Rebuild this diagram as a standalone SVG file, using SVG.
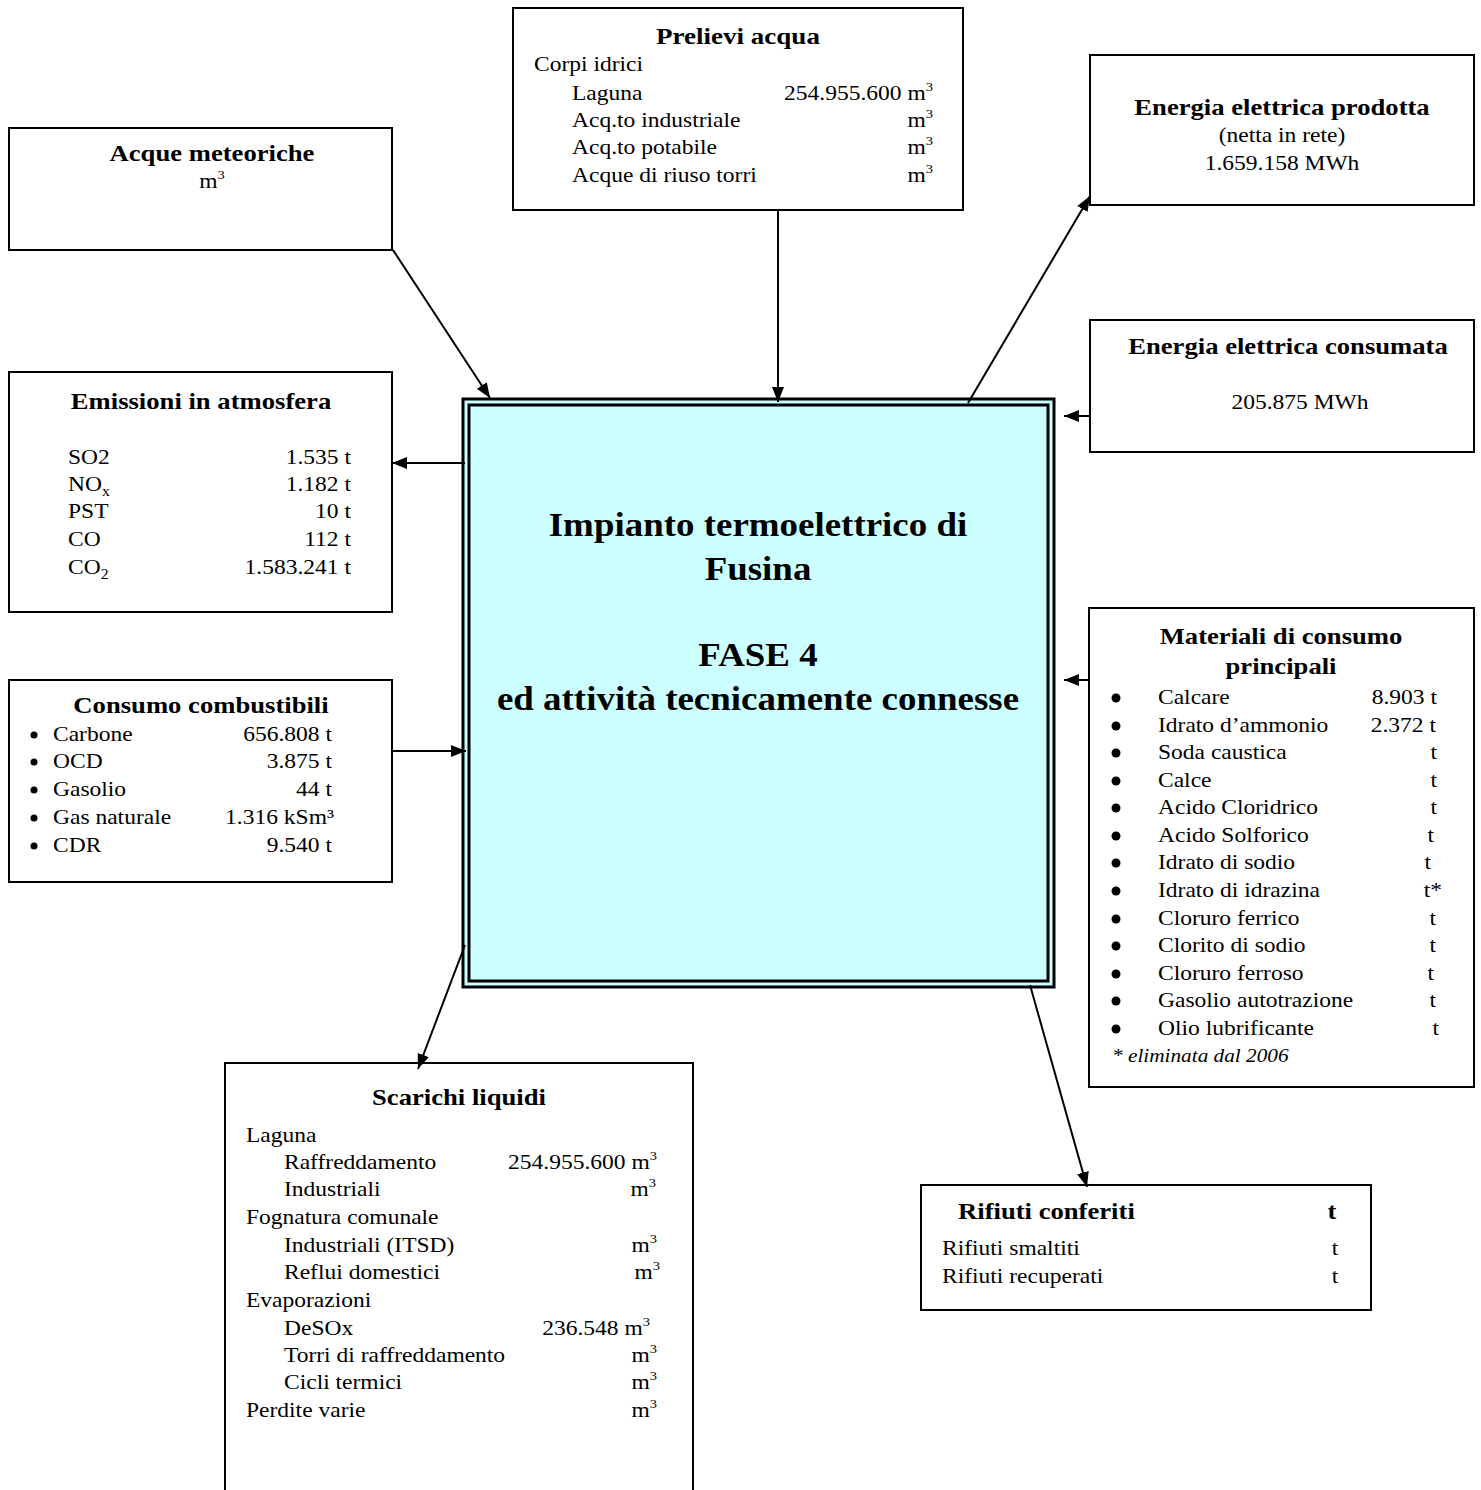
<svg xmlns="http://www.w3.org/2000/svg" width="1481" height="1490" viewBox="0 0 1481 1490">
<style>
text{font-family:"Liberation Serif","Times New Roman",serif;font-size:21px;fill:#000}
.b{font-weight:bold;font-size:23.8px}
.c{text-anchor:middle}
.e{text-anchor:end}
.i{font-style:italic;font-size:19px}
.box{fill:#fff;stroke:#000;stroke-width:2}
.con{stroke:#000;stroke-width:2;fill:none;marker-end:url(#ah)}
.big{font-weight:bold;font-size:33px}
</style>
<defs>
<marker id="ah" markerUnits="userSpaceOnUse" markerWidth="16" markerHeight="14" refX="15" refY="6" orient="auto">
<path d="M0,0 L15,6 L0,12 z" fill="#000"/>
</marker>
</defs>
<rect width="1481" height="1490" fill="#fff"/>

<g id="central">
<rect x="463" y="399" width="591" height="588" fill="#ccffff" stroke="#000" stroke-width="3"/>
<rect x="469" y="405" width="579" height="576" fill="#ccffff" stroke="#000" stroke-width="3"/>
<text class="big c" transform="translate(758 536) scale(1.12 1)">Impianto termoelettrico di</text>
<text class="big c" transform="translate(758 580) scale(1.12 1)">Fusina</text>
<text class="big c" transform="translate(758 666) scale(1.12 1)">FASE 4</text>
<text class="big c" transform="translate(758 710) scale(1.12 1)">ed attività tecnicamente connesse</text>
</g>

<g id="prelievi">
<rect class="box" x="513" y="8" width="450" height="202"/>
<text class="b c" style="font-size:23.5px" transform="translate(738 44) scale(1.15 1)">Prelievi acqua</text>
<text transform="translate(534 71) scale(1.12 1)">Corpi idrici</text>
<text transform="translate(572 100) scale(1.12 1)">Laguna</text>
<text transform="translate(572 127) scale(1.12 1)">Acq.to industriale</text>
<text transform="translate(572 154) scale(1.12 1)">Acq.to potabile</text>
<text transform="translate(572 182) scale(1.12 1)">Acque di riuso  torri</text>
<text class="e" transform="translate(933 100) scale(1.12 1)">254.955.600 m<tspan dy="-9" font-size="13">3</tspan></text>
<text class="e" transform="translate(933 127) scale(1.12 1)">m<tspan dy="-9" font-size="13">3</tspan></text>
<text class="e" transform="translate(933 154) scale(1.12 1)">m<tspan dy="-9" font-size="13">3</tspan></text>
<text class="e" transform="translate(933 182) scale(1.12 1)">m<tspan dy="-9" font-size="13">3</tspan></text>
</g>

<g id="acque-meteoriche">
<rect class="box" x="9" y="128" width="383" height="122"/>
<text class="b c" transform="translate(212 161) scale(1.12 1)">Acque meteoriche</text>
<text class="c" transform="translate(212 188) scale(1.12 1)">m<tspan dy="-9" font-size="13">3</tspan></text>
</g>

<g id="energia-prodotta">
<rect class="box" x="1090" y="55" width="384" height="150"/>
<text class="b c" transform="translate(1282 115) scale(1.12 1)">Energia elettrica prodotta</text>
<text class="c" transform="translate(1282 142) scale(1.12 1)">(netta in rete)</text>
<text class="c" transform="translate(1282 170) scale(1.12 1)">1.659.158 MWh</text>
</g>

<g id="energia-consumata">
<rect class="box" x="1090" y="320" width="384" height="132"/>
<text class="b c" transform="translate(1288 354) scale(1.12 1)">Energia elettrica consumata</text>
<text class="c" transform="translate(1300 409) scale(1.12 1)">205.875 MWh</text>
</g>

<g id="emissioni">
<rect class="box" x="9" y="372" width="383" height="240"/>
<text class="b c" transform="translate(201 409) scale(1.12 1)">Emissioni in atmosfera</text>
<text transform="translate(68 464) scale(1.12 1)">SO2</text>
<text transform="translate(68 491) scale(1.12 1)">NO<tspan dy="5" font-size="14">x</tspan></text>
<text transform="translate(68 518) scale(1.12 1)">PST</text>
<text transform="translate(68 546) scale(1.12 1)">CO</text>
<text transform="translate(68 574) scale(1.12 1)">CO<tspan dy="5" font-size="14">2</tspan></text>
<text class="e" transform="translate(351 464) scale(1.12 1)">1.535 t</text>
<text class="e" transform="translate(351 491) scale(1.12 1)">1.182 t</text>
<text class="e" transform="translate(351 518) scale(1.12 1)">10 t</text>
<text class="e" transform="translate(351 546) scale(1.12 1)">112 t</text>
<text class="e" transform="translate(351 574) scale(1.12 1)">1.583.241 t</text>
</g>

<g id="combustibili">
<rect class="box" x="9" y="680" width="383" height="202"/>
<text class="b c" transform="translate(201 713) scale(1.12 1)">Consumo combustibili</text>
<circle cx="34" cy="735" r="3.5"/><circle cx="34" cy="762" r="3.5"/><circle cx="34" cy="790" r="3.5"/><circle cx="34" cy="818" r="3.5"/><circle cx="34" cy="846" r="3.5"/>
<text transform="translate(53 741) scale(1.12 1)">Carbone</text>
<text transform="translate(53 768) scale(1.12 1)">OCD</text>
<text transform="translate(53 796) scale(1.12 1)">Gasolio</text>
<text transform="translate(53 824) scale(1.12 1)">Gas naturale</text>
<text transform="translate(53 852) scale(1.12 1)">CDR</text>
<text class="e" transform="translate(332 741) scale(1.12 1)">656.808 t</text>
<text class="e" transform="translate(332 768) scale(1.12 1)">3.875 t</text>
<text class="e" transform="translate(332 796) scale(1.12 1)">44 t</text>
<text class="e" transform="translate(334 824) scale(1.12 1)">1.316 kSm³</text>
<text class="e" transform="translate(332 852) scale(1.12 1)">9.540 t</text>
</g>

<g id="materiali">
<rect class="box" x="1089" y="608" width="385" height="479"/>
<text class="b c" transform="translate(1281 644) scale(1.12 1)">Materiali di consumo</text>
<text class="b c" transform="translate(1281 674) scale(1.12 1)">principali</text>
<g>
<circle cx="1116" cy="698" r="4.5"/><circle cx="1116" cy="726" r="4.5"/><circle cx="1116" cy="753" r="4.5"/><circle cx="1116" cy="781" r="4.5"/><circle cx="1116" cy="808" r="4.5"/><circle cx="1116" cy="836" r="4.5"/><circle cx="1116" cy="863" r="4.5"/><circle cx="1116" cy="891" r="4.5"/><circle cx="1116" cy="919" r="4.5"/><circle cx="1116" cy="946" r="4.5"/><circle cx="1116" cy="974" r="4.5"/><circle cx="1116" cy="1001" r="4.5"/><circle cx="1116" cy="1029" r="4.5"/>
</g>
<text transform="translate(1158 704) scale(1.12 1)">Calcare</text>
<text transform="translate(1158 732) scale(1.12 1)">Idrato d’ammonio</text>
<text transform="translate(1158 759) scale(1.12 1)">Soda caustica</text>
<text transform="translate(1158 787) scale(1.12 1)">Calce</text>
<text transform="translate(1158 814) scale(1.12 1)">Acido Cloridrico</text>
<text transform="translate(1158 842) scale(1.12 1)">Acido Solforico</text>
<text transform="translate(1158 869) scale(1.12 1)">Idrato di  sodio</text>
<text transform="translate(1158 897) scale(1.12 1)">Idrato di idrazina</text>
<text transform="translate(1158 925) scale(1.12 1)">Cloruro ferrico</text>
<text transform="translate(1158 952) scale(1.12 1)">Clorito di sodio</text>
<text transform="translate(1158 980) scale(1.12 1)">Cloruro ferroso</text>
<text transform="translate(1158 1007) scale(1.12 1)">Gasolio autotrazione</text>
<text transform="translate(1158 1035) scale(1.12 1)">Olio lubrificante</text>
<text class="e" transform="translate(1437 704) scale(1.12 1)">8.903 t</text>
<text class="e" transform="translate(1436 732) scale(1.12 1)">2.372 t</text>
<text class="e" transform="translate(1437 759) scale(1.12 1)">t</text>
<text class="e" transform="translate(1437 787) scale(1.12 1)">t</text>
<text class="e" transform="translate(1437 814) scale(1.12 1)">t</text>
<text class="e" transform="translate(1434 842) scale(1.12 1)">t</text>
<text class="e" transform="translate(1431 869) scale(1.12 1)">t</text>
<text class="e" transform="translate(1442 897) scale(1.12 1)">t*</text>
<text class="e" transform="translate(1436 925) scale(1.12 1)">t</text>
<text class="e" transform="translate(1436 952) scale(1.12 1)">t</text>
<text class="e" transform="translate(1434 980) scale(1.12 1)">t</text>
<text class="e" transform="translate(1436 1007) scale(1.12 1)">t</text>
<text class="e" transform="translate(1439 1035) scale(1.12 1)">t</text>
<text class="i" transform="translate(1112 1062) scale(1.12 1)">* eliminata dal 2006</text>
</g>

<g id="scarichi">
<rect class="box" x="225" y="1063" width="468" height="440"/>
<text class="b c" transform="translate(459 1105) scale(1.12 1)">Scarichi liquidi</text>
<text transform="translate(246 1142) scale(1.12 1)">Laguna</text>
<text transform="translate(284 1169) scale(1.12 1)">Raffreddamento</text>
<text transform="translate(284 1196) scale(1.12 1)">Industriali</text>
<text transform="translate(246 1224) scale(1.12 1)">Fognatura comunale</text>
<text transform="translate(284 1252) scale(1.12 1)">Industriali (ITSD)</text>
<text transform="translate(284 1279) scale(1.12 1)">Reflui domestici</text>
<text transform="translate(246 1307) scale(1.12 1)">Evaporazioni</text>
<text transform="translate(284 1335) scale(1.12 1)">DeSOx</text>
<text transform="translate(284 1362) scale(1.12 1)">Torri di raffreddamento</text>
<text transform="translate(284 1389) scale(1.12 1)">Cicli termici</text>
<text transform="translate(246 1417) scale(1.12 1)">Perdite varie</text>
<text class="e" transform="translate(657 1169) scale(1.12 1)">254.955.600 m<tspan dy="-9" font-size="13">3</tspan></text>
<text class="e" transform="translate(656 1196) scale(1.12 1)">m<tspan dy="-9" font-size="13">3</tspan></text>
<text class="e" transform="translate(657 1252) scale(1.12 1)">m<tspan dy="-9" font-size="13">3</tspan></text>
<text class="e" transform="translate(660 1279) scale(1.12 1)">m<tspan dy="-9" font-size="13">3</tspan></text>
<text class="e" transform="translate(650 1335) scale(1.12 1)">236.548 m<tspan dy="-9" font-size="13">3</tspan></text>
<text class="e" transform="translate(657 1362) scale(1.12 1)">m<tspan dy="-9" font-size="13">3</tspan></text>
<text class="e" transform="translate(657 1389) scale(1.12 1)">m<tspan dy="-9" font-size="13">3</tspan></text>
<text class="e" transform="translate(657 1417) scale(1.12 1)">m<tspan dy="-9" font-size="13">3</tspan></text>
</g>

<g id="rifiuti">
<rect class="box" x="921" y="1185" width="450" height="125"/>
<text class="b" transform="translate(958 1219) scale(1.12 1)">Rifiuti conferiti</text>
<text class="b c" transform="translate(1332 1219) scale(1.12 1)">t</text>
<text transform="translate(942 1255) scale(1.12 1)">Rifiuti smaltiti</text>
<text transform="translate(942 1283) scale(1.12 1)">Rifiuti recuperati</text>
<text class="c" transform="translate(1335 1255) scale(1.12 1)">t</text>
<text class="c" transform="translate(1335 1283) scale(1.12 1)">t</text>
</g>

<g id="connectors">
<line class="con" x1="393" y1="250" x2="490" y2="398"/>
<line class="con" x1="778" y1="210" x2="778" y2="402"/>
<line class="con" x1="968" y1="403" x2="1090" y2="196"/>
<line class="con" x1="1090" y1="416" x2="1064" y2="416"/>
<line class="con" x1="465" y1="463" x2="392" y2="463"/>
<line class="con" x1="392" y1="751" x2="466" y2="751"/>
<line class="con" x1="1089" y1="680" x2="1064" y2="680"/>
<line class="con" x1="465" y1="945" x2="418" y2="1069"/>
<line class="con" x1="1030" y1="985" x2="1087" y2="1187"/>
</g>
</svg>
